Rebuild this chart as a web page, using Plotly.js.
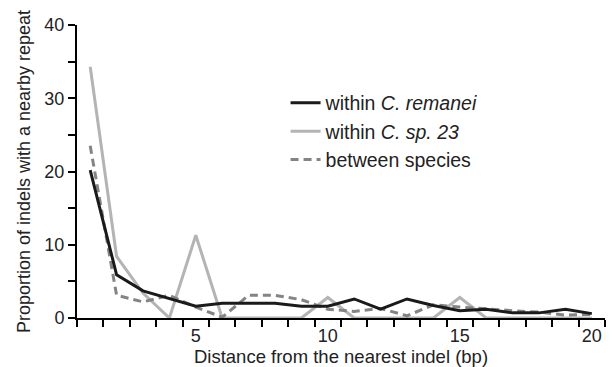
<!DOCTYPE html>
<html>
<head>
<meta charset="utf-8">
<script src="https://cdn.plot.ly/plotly-3.0.1.min.js"></script>
<style>html,body{margin:0;padding:0;background:#fff;}#chart{width:616px;height:367px;}</style>
</head>
<body>
<div id="chart"></div>
<script>
const distance = [1,2,3,4,5,6,7,8,9,10,11,12,13,14,15,16,17,18,19,20];
const withinRemanei = [20.2,5.9,3.7,2.7,1.6,2.0,2.0,2.0,1.6,1.6,2.6,1.2,2.6,1.7,1.0,1.2,0.7,0.7,1.2,0.6];
const withinSp23 = [34.3,8.4,3.4,0,11.3,0,0,0,0,2.8,0,0,0,0,2.8,0,0,0,0,0];
const betweenSpecies = [23.5,3.1,2.2,3.1,1.5,0.1,3.1,3.1,2.5,1.2,0.9,1.3,0.3,1.8,1.5,1.2,1.0,0.8,0.4,0.5];
const seriesNames = ['within <i>C. remanei</i>','within <i>C. sp. 23</i>','between species'];
const yTickVals = [0,5,10,15,20,25,30,35,40];
const yTickText = ['0','','10','','20','','30','','40'];
const xTickVals = [5,10,15,20];

const font = 'Liberation Sans, Arial, Helvetica, sans-serif';
const traces = [
  {x: distance, y: withinSp23, name: seriesNames[1], mode:'lines', legendgroup:'b', legendrank:2,
   line:{color:'#b4b4b4', width:3}},
  {x: distance, y: betweenSpecies, name: seriesNames[2], mode:'lines', legendgroup:'c', legendrank:3,
   line:{color:'#848484', width:3, dash:'8px,5px'}},
  {x: distance, y: withinRemanei, name: seriesNames[0], mode:'lines', legendgroup:'a', legendrank:1,
   line:{color:'#1a1a1a', width:3}}
];
const layout = {
  width:616, height:367,
  margin:{l:77, r:11, t:25, b:49},
  paper_bgcolor:'#fff', plot_bgcolor:'#fff',
  font:{family:font, color:'#222'},
  showlegend:true,
  legend:{x:0.395, y:0.80, xanchor:'left', yanchor:'top', bgcolor:'rgba(0,0,0,0)',
          font:{size:19.5, family:font, color:'#222'}, traceorder:'grouped', tracegroupgap:0},
  xaxis:{range:[0.5,20.5], showgrid:false, zeroline:false, showline:true, linecolor:'#000', linewidth:2,
         tickmode:'array', tickvals:xTickVals, ticks:'', tickfont:{size:18, family:font, color:'#222'},
         minor:{tickmode:'linear', tick0:0.5, dtick:1, ticks:'outside', ticklen:7, tickwidth:2, tickcolor:'#000', showgrid:false},
         title:{text:'Distance from the nearest indel (bp)', font:{size:18.5, family:font, color:'#222'}, standoff:2}},
  yaxis:{range:[0,40], showgrid:false, zeroline:false, showline:true, linecolor:'#000', linewidth:2,
         tickmode:'array', tickvals:yTickVals, ticktext:yTickText, ticks:'outside', ticklen:7, tickwidth:2, tickcolor:'#000',
         tickfont:{size:18, family:font, color:'#222'},
         title:{text:'Proportion of indels with a nearby repeat', font:{size:18, family:font, color:'#222'}, standoff:9}}
};
Plotly.newPlot('chart', traces, layout, {displayModeBar:false, staticPlot:true});
</script>
</body>
</html>
